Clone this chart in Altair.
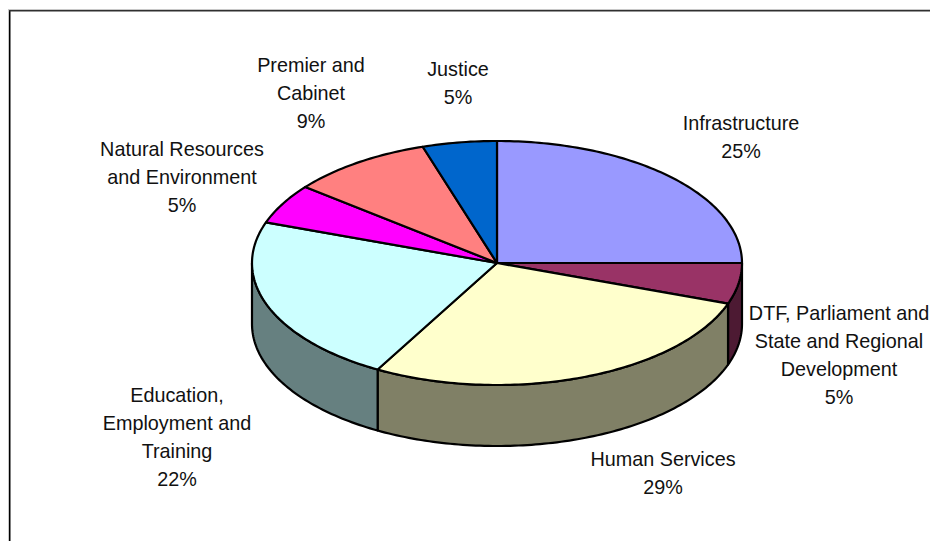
import math
import altair as alt

# Slice shares as they appear in the drawn pie, clockwise from 12 o'clock
names = ["Infrastructure", "DTF", "Human Services", "Education", "Natural Resources", "Premier", "Justice"]
shares = [25.0, 5.4, 27.7, 22.3, 5.3, 9.4, 4.9]
top_colors = ["#9999FF", "#993366", "#FFFFCC", "#CCFFFF", "#FF00FF", "#FF8080", "#0066CC"]
side_colors = ["#4D4D80", "#4D1A33", "#808066", "#668080", "#800080", "#804040", "#003366"]
label_texts = [
    "Infrastructure\n25%",
    "DTF, Parliament and\nState and Regional\nDevelopment\n5%",
    "Human Services\n29%",
    "Education,\nEmployment and\nTraining\n22%",
    "Natural Resources\nand Environment\n5%",
    "Premier and\nCabinet\n9%",
    "Justice\n5%",
]

W, H = 922, 533
RX, RY, DEPTH = 245, 122, 61
CX, CY = 497 - 8, 263 - 8


def pt(deg, drop=0):
    t = math.radians(deg)
    return [RX * math.sin(t), RY * math.cos(t) - drop]


def arc(a, b, drop=0):
    n = max(2, int(abs(b - a)) + 1)
    return [pt(a + (b - a) * i / (n - 1), drop) for i in range(n)]


def feature(ring, color):
    return {"type": "Feature", "properties": {"color": color},
            "geometry": {"type": "Polygon", "coordinates": [ring + [ring[0]]]}}


sides, tops = [], []
cum = 0.0
for share, tc, sc in zip(shares, top_colors, side_colors):
    a, b = cum * 3.6, (cum + share) * 3.6
    cum += share
    tops.append(feature([[0, 0]] + arc(a, b), tc))
    lo, hi = max(a, 90), min(b, 270)
    if hi > lo:
        sides.append(feature(arc(lo, hi) + arc(hi, lo, DEPTH), sc))

colors = top_colors + side_colors
pie = alt.Chart(alt.Data(values=sides + tops)).mark_geoshape(
    stroke="black", strokeWidth=2.2, strokeJoin="round"
).encode(
    color=alt.Color("properties.color:N", scale=alt.Scale(domain=colors, range=colors), legend=None)
).project(type="identity", reflectY=True, scale=1, translate=[CX, CY])

# first-line centre of each label, page pixels
label_xy = [(741, 123), (839, 313), (663, 459), (177, 395), (182, 149), (311, 65), (458, 69)]
layers = []
for txt, (lx, ly) in zip(label_texts, label_xy):
    layers.append(
        alt.Chart(alt.Data(values=[{"t": txt}])).mark_text(
            font="Liberation Sans", fontSize=19.8, lineBreak="\n", lineHeight=28,
            baseline="top", align="center", color="#111111"
        ).encode(text="t:N", x=alt.value(lx - 8), y=alt.value(ly - 8 - 9))
    )

one = alt.Data(values=[{"a": 0}])
frame = [
    alt.Chart(one).mark_rule(color="#C8C8C8", strokeWidth=1).encode(
        x=alt.value(0.5), y=alt.value(1), y2=alt.value(H)),
    alt.Chart(one).mark_rule(color="#C8C8C8", strokeWidth=1).encode(
        x=alt.value(0), x2=alt.value(W), y=alt.value(1.5)),
    alt.Chart(one).mark_rule(color="black", strokeWidth=1.5).encode(
        x=alt.value(1.75), y=alt.value(2), y2=alt.value(H)),
    alt.Chart(one).mark_rule(color="#303030", strokeWidth=1.5).encode(
        x=alt.value(1), x2=alt.value(W), y=alt.value(2.75)),
]

chart = alt.layer(*frame, pie, *layers).properties(
    width=W, height=H, padding=0, autosize=alt.AutoSizeParams(type="none"),
    background="white"
).configure_view(stroke=None)

chart.save("out.html", embed_options={"renderer": "svg", "actions": False})
